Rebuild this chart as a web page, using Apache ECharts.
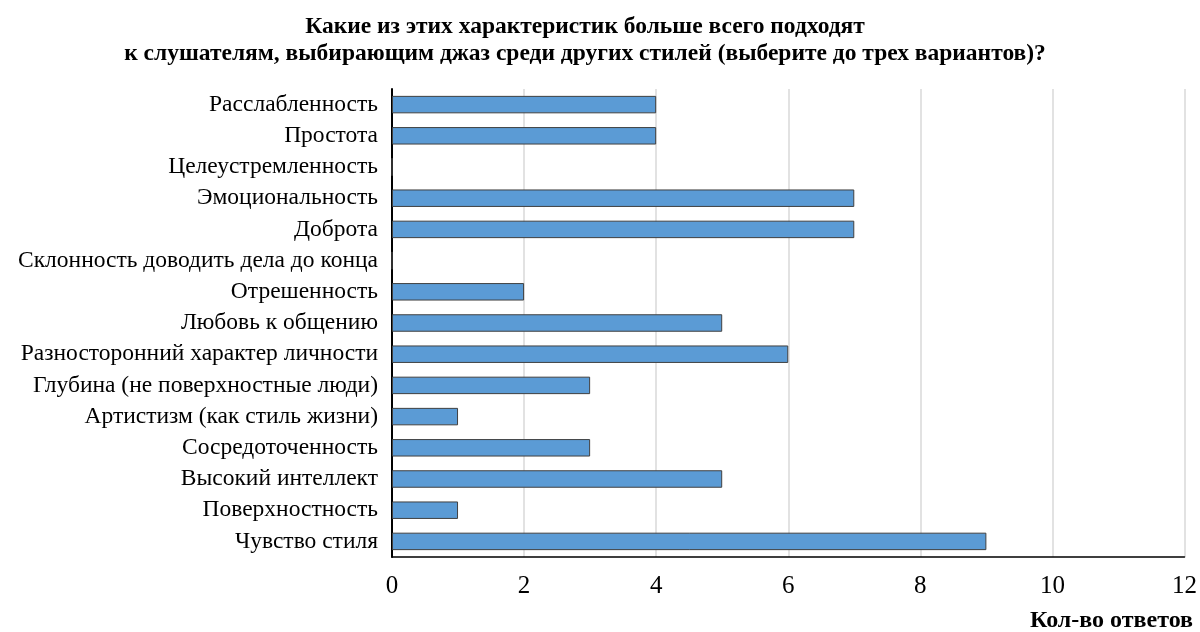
<!DOCTYPE html>
<html><head><meta charset="utf-8">
<script src="https://cdn.jsdelivr.net/npm/echarts@6/dist/echarts.min.js"></script>
<style>html,body{margin:0;padding:0;background:#fff}#c{width:1200px;height:632px}</style>
</head><body><div id="c"></div>
<script>
const categories = [
  'Расслабленность','Простота','Целеустремленность','Эмоциональность','Доброта',
  'Склонность доводить дела до конца','Отрешенность','Любовь к общению',
  'Разносторонний характер личности','Глубина (не поверхностные люди)',
  'Артистизм (как стиль жизни)','Сосредоточенность','Высокий интеллект',
  'Поверхностность','Чувство стиля'
];
const values = [4,4,0,7,7,0,2,5,6,3,1,3,5,1,9];
const titleText = 'Какие из этих характеристик больше всего подходят\nк слушателям, выбирающим джаз среди других стилей (выберите до трех вариантов)?';
const xAxisName = 'Кол-во ответов';
const F = '"Liberation Serif","Times New Roman",serif';
const chart = echarts.init(document.getElementById('c'));
chart.setOption({
  animation:false,
  title:{text:titleText,left:580,textAlign:'center',top:8,textStyle:{fontFamily:F,fontWeight:'bold',fontSize:23.5,color:'#000',lineHeight:27}},
  grid:{left:392,right:15,top:89,bottom:75,containLabel:false},
  xAxis:{type:'value',min:0,max:12,interval:2,
    axisLine:{show:true,lineStyle:{color:'#000',width:1.5}},
    axisTick:{show:false},
    splitLine:{lineStyle:{color:'#d9d9d9',width:1.5}},
    axisLabel:{fontFamily:F,fontSize:25,color:'#000',margin:17}},
  yAxis:{type:'category',data:categories,inverse:true,
    axisLine:{show:true,lineStyle:{color:'#000',width:2}},
    axisTick:{show:false},
    axisLabel:{fontFamily:F,fontSize:23.5,color:'#000',margin:14,interval:0}},
  graphic:[{type:'text',right:7,top:609,style:{text:xAxisName,font:'bold 24px "Liberation Serif", serif',fill:'#000'}}],
  series:[{type:'bar',data:values,barCategoryGap:'44%',
    itemStyle:{color:'#5b9bd5',borderColor:'#404040',borderWidth:1}}]
});
</script></body></html>
